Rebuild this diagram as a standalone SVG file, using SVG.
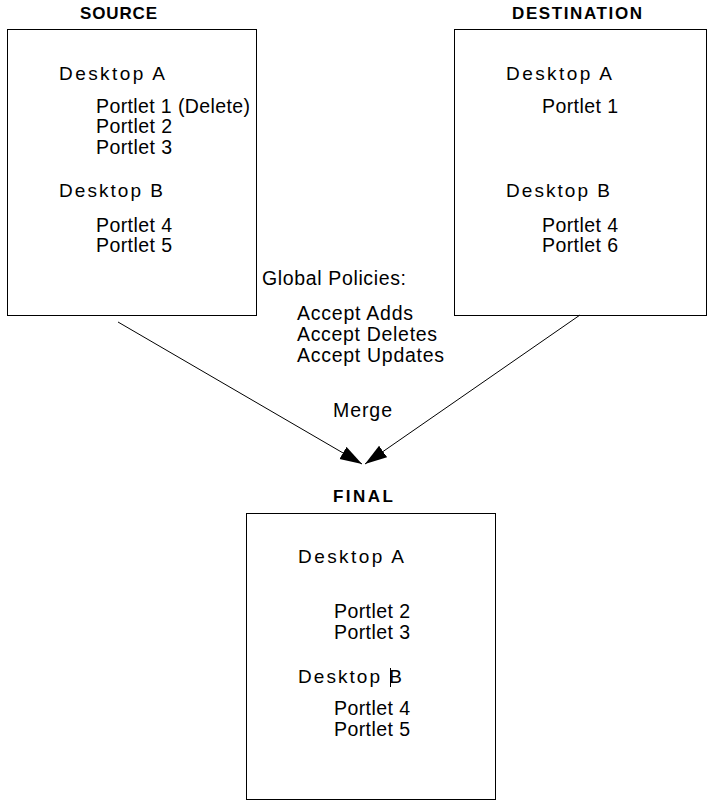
<svg xmlns="http://www.w3.org/2000/svg" width="710" height="807" viewBox="0 0 710 807">
<style>
.box{fill:#fff;stroke:#000;stroke-width:1}
.hd{font-family:"Liberation Sans",Arial,sans-serif;font-size:17px;font-weight:bold;fill:#000}
.t{font-family:"Liberation Sans",Arial,sans-serif;font-size:19.5px;fill:#000}
.d{font-family:"Liberation Sans",Arial,sans-serif;font-size:19px;fill:#000}
.ln{stroke:#000;stroke-width:1;fill:none}
</style>
<defs>
<marker id="ah" markerWidth="24" markerHeight="16" refX="22" refY="7" orient="auto" markerUnits="userSpaceOnUse">
<path d="M0,0 L22,7 L0,14 Z" fill="#000"/>
</marker>
</defs>
<rect width="710" height="807" fill="#fff"/>
<g id="source">
<text class="hd" x="80" y="18.5" textLength="77" lengthAdjust="spacing">SOURCE</text>
<rect class="box" x="7.5" y="29.5" width="249" height="286"/>
<text class="d" x="59" y="80" textLength="106" lengthAdjust="spacing">Desktop A</text>
<text class="t" x="96" y="112.5" textLength="154" lengthAdjust="spacing">Portlet 1 (Delete)</text>
<text class="t" x="96" y="133" textLength="76" lengthAdjust="spacing">Portlet 2</text>
<text class="t" x="96" y="153.5" textLength="76" lengthAdjust="spacing">Portlet 3</text>
<text class="d" x="59" y="197" textLength="104" lengthAdjust="spacing">Desktop B</text>
<text class="t" x="96" y="231.5" textLength="76" lengthAdjust="spacing">Portlet 4</text>
<text class="t" x="96" y="252" textLength="76" lengthAdjust="spacing">Portlet 5</text>
</g>
<g id="destination">
<text class="hd" x="512" y="18.5" textLength="130" lengthAdjust="spacing">DESTINATION</text>
<rect class="box" x="454.5" y="29.5" width="252" height="286"/>
<text class="d" x="506" y="80" textLength="106" lengthAdjust="spacing">Desktop A</text>
<text class="t" x="542" y="112.5" textLength="76" lengthAdjust="spacing">Portlet 1</text>
<text class="d" x="506" y="197" textLength="104" lengthAdjust="spacing">Desktop B</text>
<text class="t" x="542" y="231.5" textLength="76" lengthAdjust="spacing">Portlet 4</text>
<text class="t" x="542" y="252" textLength="76" lengthAdjust="spacing">Portlet 6</text>
</g>
<g id="policies">
<text class="t" x="262" y="285" textLength="144" lengthAdjust="spacing">Global Policies:</text>
<text class="t" x="297" y="320" textLength="116" lengthAdjust="spacing">Accept Adds</text>
<text class="t" x="297" y="341" textLength="140" lengthAdjust="spacing">Accept Deletes</text>
<text class="t" x="297" y="362" textLength="147" lengthAdjust="spacing">Accept Updates</text>
</g>
<g id="connectors">
<line class="ln" x1="118" y1="322" x2="362" y2="464" marker-end="url(#ah)"/>
<line class="ln" x1="580" y1="315" x2="365" y2="464" marker-end="url(#ah)"/>
<text class="t" x="333" y="417" textLength="59" lengthAdjust="spacing">Merge</text>
</g>
<g id="final">
<text class="hd" x="333" y="502" textLength="60" lengthAdjust="spacing">FINAL</text>
<rect class="box" x="246.5" y="513.5" width="249" height="286"/>
<text class="d" x="298" y="563" textLength="106" lengthAdjust="spacing">Desktop A</text>
<text class="t" x="334" y="618" textLength="76" lengthAdjust="spacing">Portlet 2</text>
<text class="t" x="334" y="639" textLength="76" lengthAdjust="spacing">Portlet 3</text>
<text class="d" x="298" y="683" textLength="104" lengthAdjust="spacing">Desktop B</text>
<line class="ln" x1="390.5" y1="668" x2="390.5" y2="687"/>
<text class="t" x="334" y="715" textLength="76" lengthAdjust="spacing">Portlet 4</text>
<text class="t" x="334" y="736" textLength="76" lengthAdjust="spacing">Portlet 5</text>
</g>
</svg>
